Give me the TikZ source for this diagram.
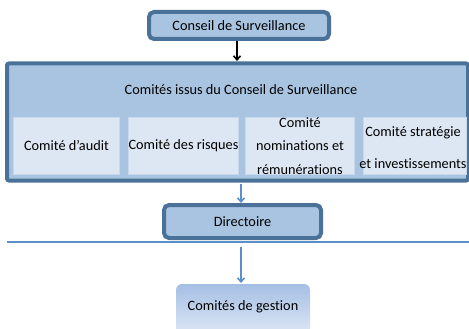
\documentclass[tikz,border=0pt]{standalone}
\usepackage{fontspec}
\setmainfont[Ligatures={NoCommon}]{Carlito}
\usetikzlibrary{arrows.meta}
\definecolor{darkb}{HTML}{4A7299}
\definecolor{fillb}{HTML}{A8C4E0}
\definecolor{innerb}{HTML}{DDE7F3}
\definecolor{innerd}{HTML}{C9D8EB}
\definecolor{arrb}{HTML}{5B8FC9}
\definecolor{gtop}{HTML}{A5BFE4}
\definecolor{gbot}{HTML}{E4ECF7}
\tikzset{
  txt/.style={font=\fontsize{14.3}{17}\selectfont},
  mainbox/.style={draw=darkb, line width=4pt, fill=fillb, rounded corners=5pt, txt, inner sep=0pt},
  innerbox/.style={draw=innerd, line width=0.8pt, fill=innerb, inner sep=0pt, txt, align=center},
  blueArrow/.style={draw=arrb, line width=1.6pt, -{Straight Barb[length=4pt,width=7pt]}},
}
\begin{document}
\begin{tikzpicture}[x=1pt,y=1pt]
\useasboundingbox (0,0) rectangle (469,-329);
\fill[white] (0,0) rectangle (469,-329);
% top box
\node[mainbox, minimum width=180pt, minimum height=27pt] (cs) at (239,-25.5) {Conseil de Surveillance};
% big box
\node[draw=darkb, line width=4pt, fill=fillb, rounded corners=2pt, minimum width=461pt, minimum height=117pt, inner sep=0pt] (big) at (237.5,-122) {};
\node[txt] (title) at (241,-90) {Comités issus du Conseil de Surveillance};
\node[innerbox, minimum width=106pt, minimum height=57pt] (c1) at (66.5,-146) {Comité d’audit};
\node[innerbox, minimum width=106pt, minimum height=57pt] (c2) at (183.5,-146) {Comité des risques};
\node[innerbox, minimum width=109pt, minimum height=57pt] (c3) at (300,-146) {};
\node[txt, align=center] (c3t) at (300,-146) {Comité\\[6.5pt]nominations et\\[6.5pt]rémunérations};
\node[innerbox, minimum width=103pt, minimum height=57pt] (c4) at (415,-146) {};
\node[txt, align=center] (c4t) at (413,-147.5) {Comité stratégie\\[15.5pt]et investissements};
% Directoire
\node[mainbox, minimum width=157pt, minimum height=33pt] (dir) at (242.5,-221.5) {Directoire};
% line
\coordinate (la) at (7,-242);
\coordinate (lb) at (469,-242);
\draw[arrb, line width=2pt] (la) -- (lb);
% gestion
\shade[top color=gtop, bottom color=gbot, rounded corners=6pt] (176,-284) rectangle (310,-340);
\node[txt, anchor=center] (gest) at (243,-307) {Comités de gestion};
\coordinate (gtopc) at (241,-283);
\coordinate (a3s) at (241,-247);
% arrows
\coordinate (a1e) at (237,-61);
\draw[black, line width=1.6pt, -{Straight Barb[length=4pt,width=7pt]}] (cs.south -| a1e) -- (a1e);
\coordinate (a2s) at (241,-184);
\coordinate (a2e) at (241,-203);
\draw[blueArrow] (a2s) -- (a2e);
\draw[blueArrow] (a3s) -- (gtopc);
\end{tikzpicture}
\end{document}
